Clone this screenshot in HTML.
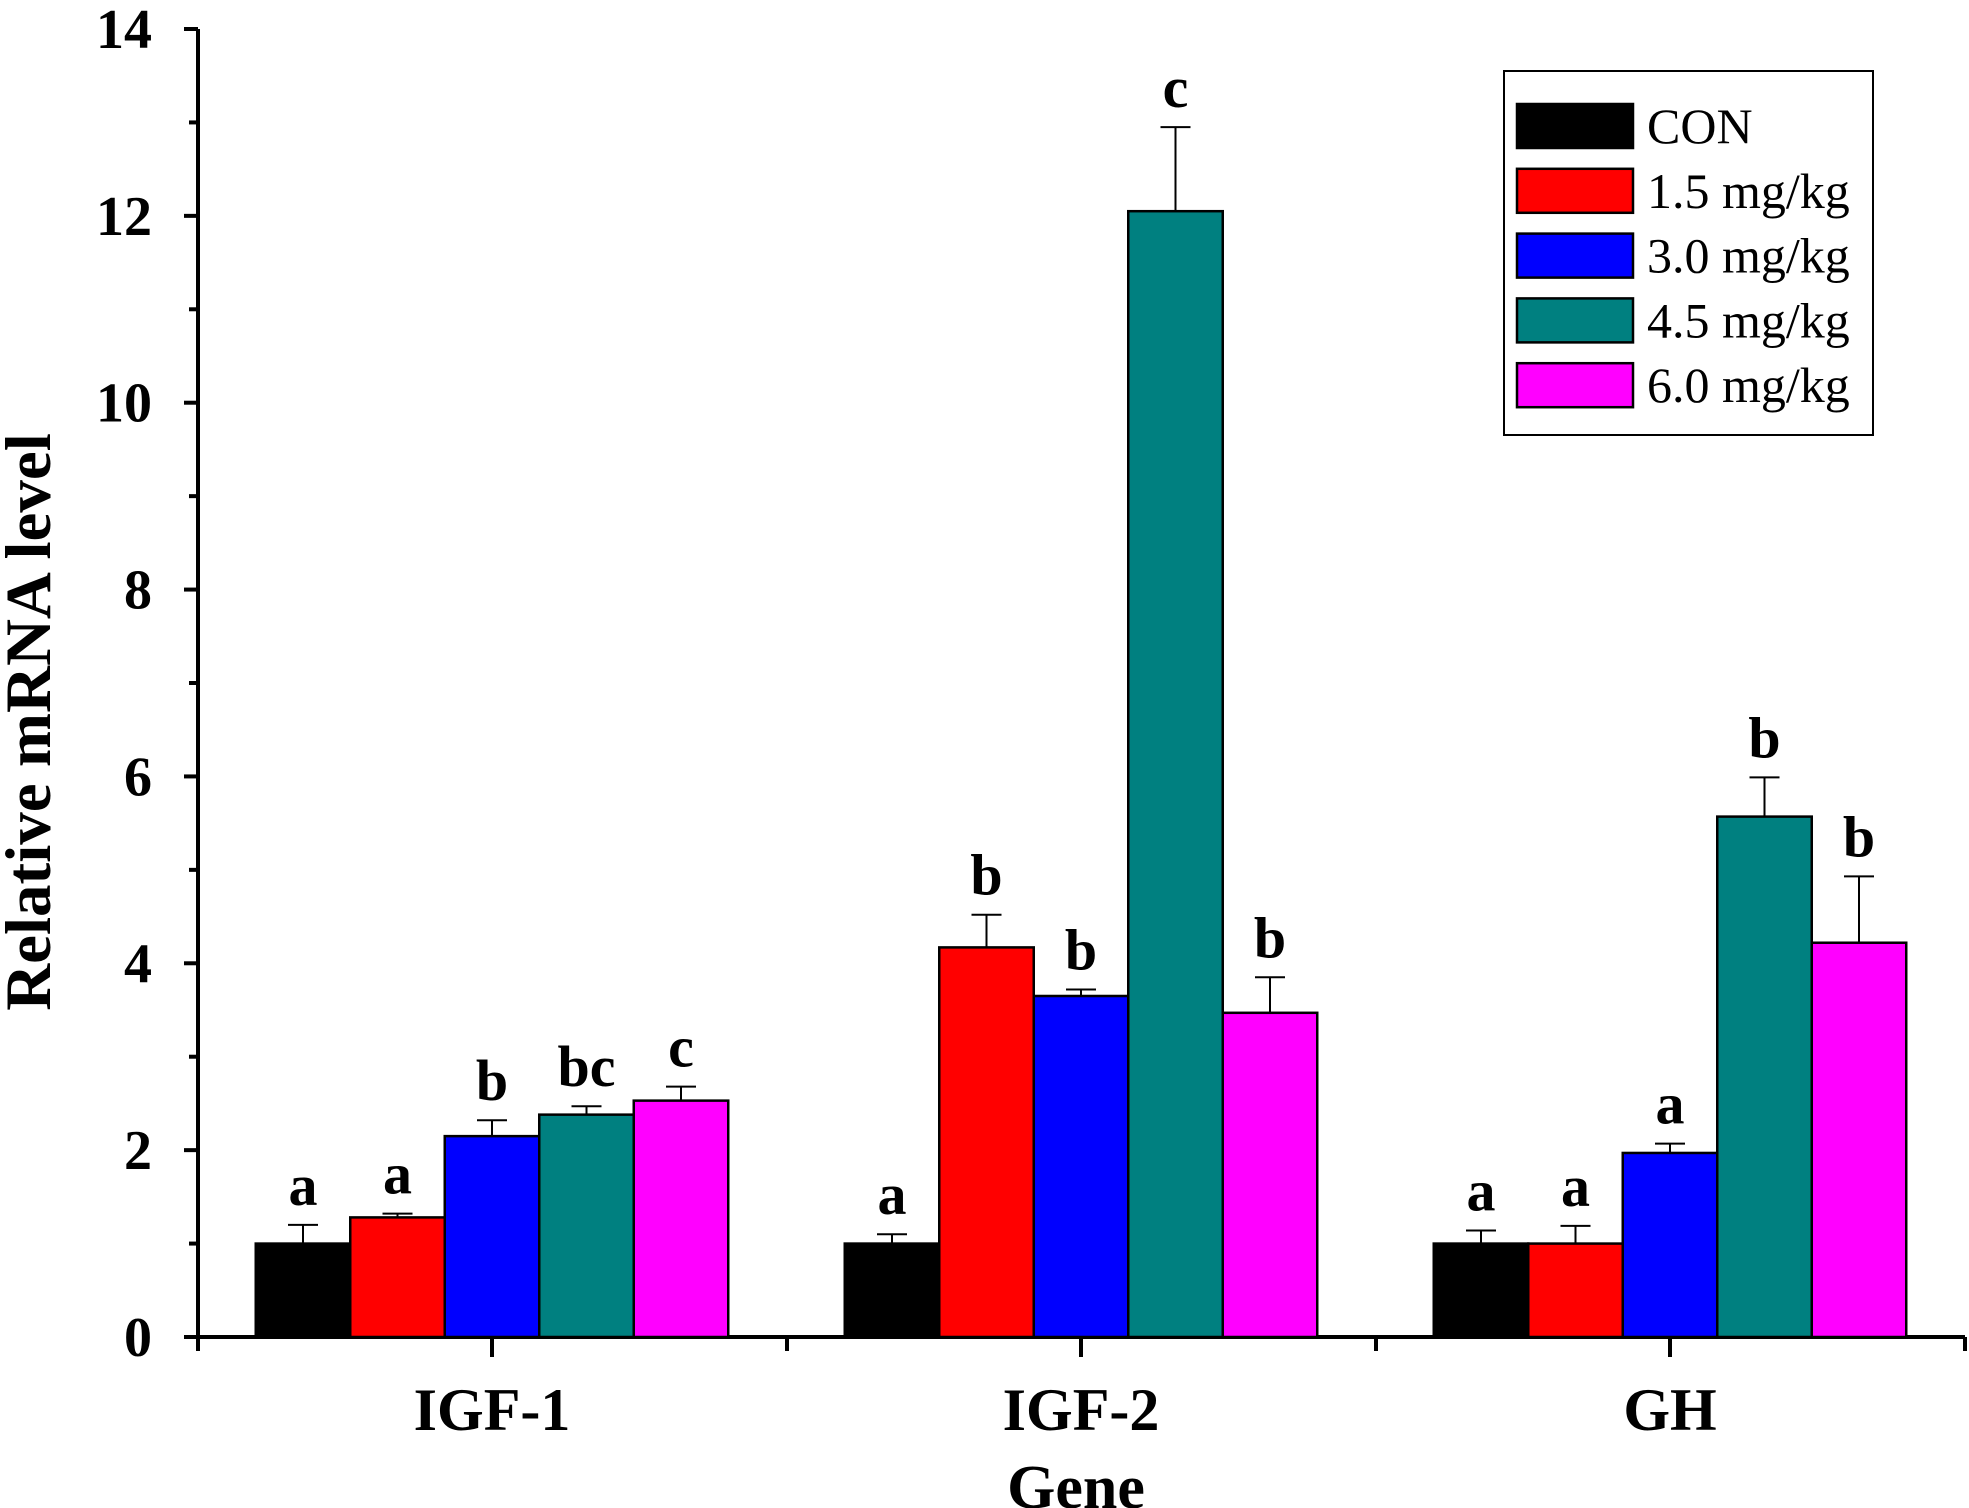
<!DOCTYPE html>
<html><head><meta charset="utf-8"><style>
html,body{margin:0;padding:0;background:#fff;}
svg{display:block;font-family:"Liberation Serif","DejaVu Serif",serif;}
</style></head><body>
<svg id="chart" width="1969" height="1508" viewBox="0 0 1969 1508" xmlns="http://www.w3.org/2000/svg" font-family="Liberation Serif, serif">
<g id="axes"></g>
<g id="bars"></g>
<g id="legend">
  <rect x="1504" y="71" width="369" height="364" fill="#fff" stroke="#000" stroke-width="2"/>
</g>
<text transform="translate(50,722) rotate(-90)" text-anchor="middle" font-size="65" font-weight="bold" font-family="Liberation Serif, serif">Relative mRNA level</text>
<text x="1076" y="1508" text-anchor="middle" font-size="62" font-weight="bold" font-family="Liberation Serif, serif">Gene</text>
</svg>
<script>
const categories = ["IGF-1","IGF-2","GH"];
const seriesNames = ["CON","1.5 mg/kg","3.0 mg/kg","4.5 mg/kg","6.0 mg/kg"];
const seriesColors = ["#000000","#ff0000","#0000ff","#008080","#ff00ff"];
const means = [
  [1.0, 1.28, 2.15, 2.38, 2.53],
  [1.0, 4.17, 3.65, 12.05, 3.47],
  [1.0, 1.0, 1.97, 5.57, 4.22]
];
const errors = [
  [0.2, 0.04, 0.17, 0.09, 0.15],
  [0.1, 0.35, 0.07, 0.9, 0.38],
  [0.14, 0.19, 0.1, 0.42, 0.71]
];
const letters = [
  ["a","a","b","bc","c"],
  ["a","b","b","c","b"],
  ["a","a","a","b","b"]
];
const yTicks = [0,2,4,6,8,10,12,14];

const NS = "http://www.w3.org/2000/svg";
const FF = "Liberation Serif, serif";
const X0 = 198, X1 = 1965, Y0 = 1337, YTOP = 29, YMAX = 14;
const y = v => Y0 - (Y0 - YTOP) * v / YMAX;
const catW = 589, barW = 94.5;
const catCenter = i => 492 + i * catW;
function mk(tag, attrs, parent){ const e=document.createElementNS(NS,tag); for(const k in attrs) e.setAttribute(k,attrs[k]); parent.appendChild(e); return e; }
const axes = document.getElementById('axes');
const bars = document.getElementById('bars');
const legend = document.getElementById('legend');

let ya = mk('line',{x1:X0,y1:YTOP,x2:X0,y2:Y0+3,stroke:'#000','stroke-width':4},axes);


let xa = mk('line',{x1:X0-14,y1:Y0,x2:X1,y2:Y0,stroke:'#000','stroke-width':4},axes);


yTicks.forEach((t,i)=>{
  let tk = mk('line',{x1:X0-14,y1:y(t),x2:X0,y2:y(t),stroke:'#000','stroke-width':4},axes);
  
  
  if(i<yTicks.length-1){
    let mt = mk('line',{x1:X0-9,y1:y(t+1),x2:X0,y2:y(t+1),stroke:'#000','stroke-width':4},axes);
    
    
  }
  let lb = mk('text',{x:152,y:y(t)+19,'text-anchor':'end','font-size':56,'font-weight':'bold','font-family':FF},axes);
  lb.textContent = t;
  
  
});
for(let i=0;i<=categories.length;i++){
  const xx = X0 + i*catW;
  let tk = mk('line',{x1:xx,y1:Y0,x2:xx,y2:Y0+14,stroke:'#000','stroke-width':4},axes);
  
  
}
categories.forEach((c,i)=>{
  let tk = mk('line',{x1:catCenter(i),y1:Y0,x2:catCenter(i),y2:Y0+20,stroke:'#000','stroke-width':4},axes);
  
  
  let lb = mk('text',{x:catCenter(i),y:1430,'text-anchor':'middle','font-size':60,'font-weight':'bold','font-family':FF},axes);
  lb.textContent = c;
  
  
});
categories.forEach((c,i)=>{
  means[i].forEach((v,j)=>{
    const bx = catCenter(i) - 2.5*barW + j*barW;
    const cx = bx + barW/2;
    const top = y(v + errors[i][j]);
    let eb = mk('path',{d:`M${cx},${y(v)} V${top} M${cx-15},${top} H${cx+15}`,stroke:'#000','stroke-width':2,fill:'none'},bars);
    
    
    let r = mk('rect',{x:bx,y:y(v),width:barW,height:Y0-y(v),fill:seriesColors[j],stroke:'#000','stroke-width':2.5},bars);
    
    
    let t = mk('text',{x:cx,y:top-20,'text-anchor':'middle','font-size':58,'font-weight':'bold','font-family':FF},bars);
    t.textContent = letters[i][j];
    
    
  });
});
seriesNames.forEach((n,j)=>{
  const ry = 104 + j*64.8;
  let s = mk('rect',{x:1517,y:ry,width:116,height:44,fill:seriesColors[j],stroke:'#000','stroke-width':2.5},legend);
  
  
  let t = mk('text',{x:1647,y:ry+39,'font-size':50,'font-family':FF},legend);
  t.textContent = n;
  
  
});
</script>
</body></html>
